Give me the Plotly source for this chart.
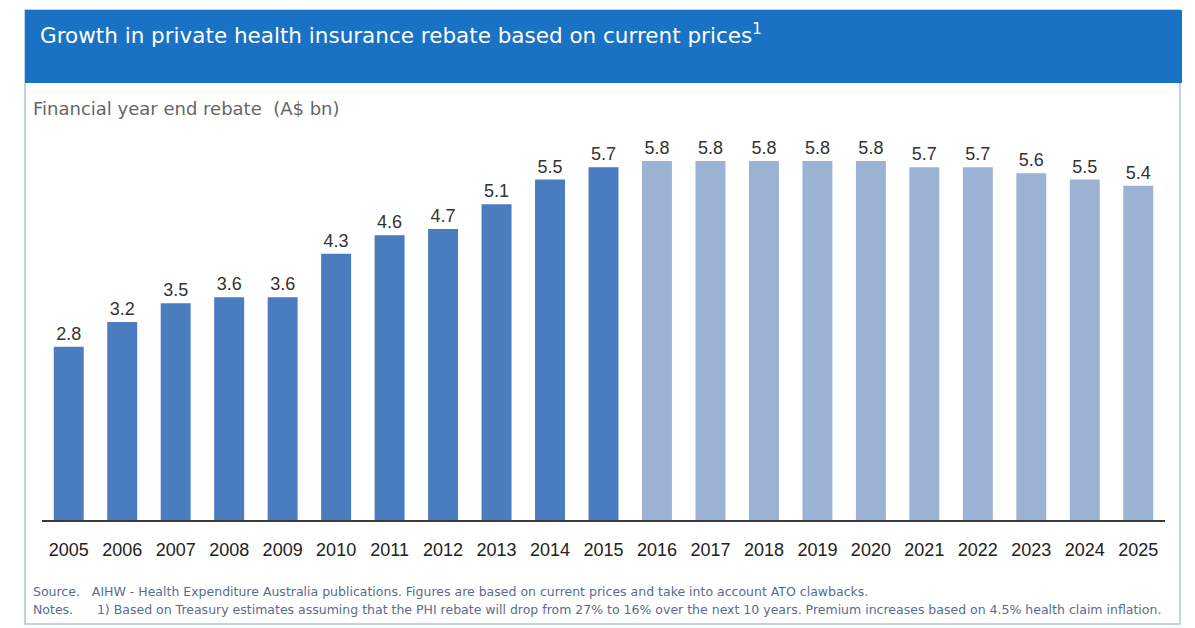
import plotly.graph_objects as go

years = [str(y) for y in range(2005, 2026)]
rebate = [2.8, 3.2, 3.5, 3.6, 3.6, 4.3, 4.6, 4.7, 5.1, 5.5, 5.7,
          5.8, 5.8, 5.8, 5.8, 5.8, 5.7, 5.7, 5.6, 5.5, 5.4]
n_actual = 11  # 2005-2015 actual, 2016+ estimates
actual_color = "#4a7cc0"
estimate_color = "#9cb2d4"
colors = [actual_color if i < n_actual else estimate_color for i in range(len(years))]

title = "Growth in private health insurance rebate based on current prices<sup>1</sup>"
subtitle = "Financial year end rebate  (A$ bn)"
source = "Source.   AIHW - Health Expenditure Australia publications. Figures are based on current prices and take into account ATO clawbacks."
notes = ("Notes.      1) Based on Treasury estimates assuming that the PHI rebate will drop from 27% to 16% over the next 10 years. "
         "Premium increases based on 4.5% health claim inflation.")

OFF = 8  # page body margin
W, H = 1195 - OFF, 628 - OFF
ML, MR, MT, MB = 42 - OFF, 30, 130 - OFF, 108
PW, PH = W - ML - MR, H - MT - MB

def px(x):  # reference-pixel x -> paper
    return (x - OFF - ML) / PW

def py(y):  # reference-pixel y -> paper
    return (H - MB - (y - OFF)) / PH

label_font = "Liberation Sans, Arial, sans-serif"

fig = go.Figure(go.Bar(
    x=years, y=rebate, marker_color=colors, marker_line_width=0,
    text=[f"{v:.1f}" for v in rebate], textposition="outside",
    textfont=dict(family=label_font, size=18, color="#333333"),
    cliponaxis=False,
))

fig.update_layout(
    width=W, height=H,
    margin=dict(l=ML, r=MR, t=MT, b=MB),
    paper_bgcolor="white", plot_bgcolor="white",
    bargap=0.44, showlegend=False,
    xaxis=dict(type="category", showline=True, linecolor="#3a3a3a", linewidth=2,
               ticks="", showgrid=False, ticklabelstandoff=12,
               tickfont=dict(family=label_font, size=18, color="#222222")),
    yaxis=dict(range=[0, 6.3], visible=False, showgrid=False),
    shapes=[
        dict(type="rect", xref="paper", yref="paper", x0=px(25), x1=px(1180), y0=py(624), y1=py(10),
             line=dict(color="#a9c3e2", width=1.5), fillcolor="rgba(0,0,0,0)", layer="below"),
        dict(type="rect", xref="paper", yref="paper", x0=px(25), x1=px(1182), y0=py(83), y1=py(10),
             line=dict(width=0), fillcolor="#1a72c4", layer="below"),
    ],
    annotations=[
        dict(text=title, xref="paper", yref="paper", x=px(38), y=py(34), xanchor="left", yanchor="middle",
             showarrow=False, font=dict(family="DejaVu Sans, sans-serif", size=21.5, color="white")),
        dict(text=subtitle, xref="paper", yref="paper", x=px(31), y=py(108), xanchor="left", yanchor="middle",
             showarrow=False, font=dict(family="DejaVu Sans, sans-serif", size=18, color="#666666")),
        dict(text=source, xref="paper", yref="paper", x=px(31), y=py(591), xanchor="left", yanchor="middle",
             showarrow=False, font=dict(family="DejaVu Sans, sans-serif", size=12.5, color="#5b6b8c")),
        dict(text=notes, xref="paper", yref="paper", x=px(31), y=py(609), xanchor="left", yanchor="middle",
             showarrow=False, font=dict(family="DejaVu Sans, sans-serif", size=12.5, color="#5b6b8c")),
    ],
)

fig.write_html("out.html")
